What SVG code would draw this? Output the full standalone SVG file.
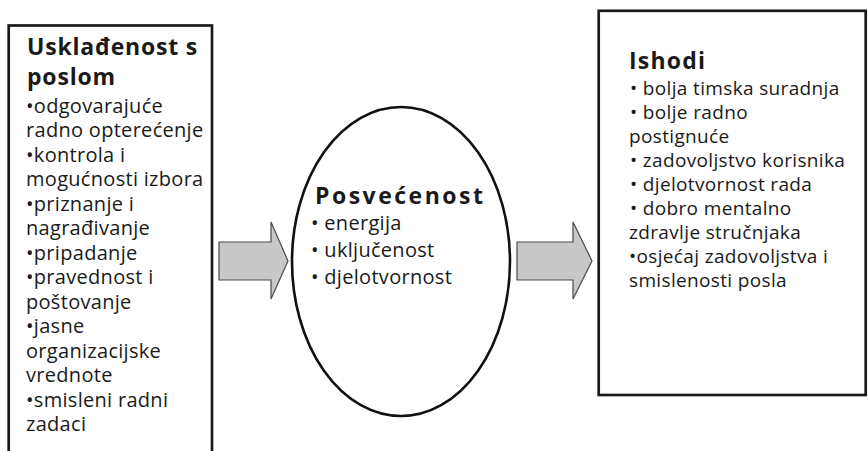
<svg xmlns="http://www.w3.org/2000/svg" width="868" height="451" viewBox="0 0 868 451">
  <style>
    .box { fill: #ffffff; stroke: #1a1a1a; stroke-width: 2.7; }
    .oval { fill: #ffffff; stroke: #111111; stroke-width: 2.6; }
    .arrow { fill: #c8c8c8; stroke: #4a4a4a; stroke-width: 1.2; stroke-linejoin: miter; }
    text { font-family: "Open Sans", "Noto Sans", "DejaVu Sans", sans-serif; fill: #1a1a1a; }
    .title { font-size: 23px; font-weight: bold; letter-spacing: 0.8px; }
    .body { font-size: 20px; letter-spacing: 0.3px; }
    .rbody { font-size: 19px; letter-spacing: 0.35px; }
  </style>
  <rect width="868" height="451" fill="#ffffff"/>

  <!-- Left node: job fit factors -->
  <g id="usklađenost">
    <rect class="box" x="8.7" y="25.5" width="203.3" height="440"/>
    <text class="title" x="27" y="54.5">Usklađenost s</text>
    <text class="title" x="27" y="85">poslom</text>
    <text class="body" x="26" y="112.5">•odgovarajuće</text>
    <text class="body" x="26" y="137">radno opterećenje</text>
    <text class="body" x="26" y="161.5">•kontrola i</text>
    <text class="body" x="26" y="186">mogućnosti izbora</text>
    <text class="body" x="26" y="210.5">•priznanje i</text>
    <text class="body" x="26" y="235">nagrađivanje</text>
    <text class="body" x="26" y="259.5">•pripadanje</text>
    <text class="body" x="26" y="284">•pravednost i</text>
    <text class="body" x="26" y="308.5">poštovanje</text>
    <text class="body" x="26" y="333">•jasne</text>
    <text class="body" x="26" y="357.5">organizacijske</text>
    <text class="body" x="26" y="382">vrednote</text>
    <text class="body" x="26" y="406.5">•smisleni radni</text>
    <text class="body" x="26" y="431">zadaci</text>
  </g>

  <!-- Centre node: engagement -->
  <g id="posvecenost">
    <ellipse class="oval" cx="401" cy="261.5" rx="109" ry="154.5"/>
    <text class="title" x="315" y="204" style="letter-spacing:2.5px">Posvećenost</text>
    <text class="body" x="311" y="229.5">• energija</text>
    <text class="body" x="311" y="256.5">• uključenost</text>
    <text class="body" x="311" y="283.5">• djelotvornost</text>
  </g>

  <!-- Right node: outcomes -->
  <g id="ishodi">
    <rect class="box" x="598.7" y="10.8" width="267" height="384.2"/>
    <text class="title" x="629" y="68.5" style="letter-spacing:1.2px">Ishodi</text>
    <text class="rbody" x="630" y="94.5">• bolja timska suradnja</text>
    <text class="rbody" x="630" y="118.5">• bolje radno</text>
    <text class="rbody" x="629" y="142.5">postignuće</text>
    <text class="rbody" x="630" y="166.5">• zadovoljstvo korisnika</text>
    <text class="rbody" x="630" y="190.5">• djelotvornost rada</text>
    <text class="rbody" x="630" y="214.5">• dobro mentalno</text>
    <text class="rbody" x="629" y="238.5">zdravlje stručnjaka</text>
    <text class="rbody" x="629" y="262.5">•osjećaj zadovoljstva i</text>
    <text class="rbody" x="629" y="286.5">smislenosti posla</text>
  </g>

  <!-- Connectors: block arrows -->
  <g id="connectors">
    <polygon class="arrow" points="219,242 271,242 271,222 288,261 271,299 271,280 219,280"/>
    <polygon class="arrow" points="517,242 573,242 573,222 592,261 573,299 573,280 517,280"/>
  </g>
</svg>
